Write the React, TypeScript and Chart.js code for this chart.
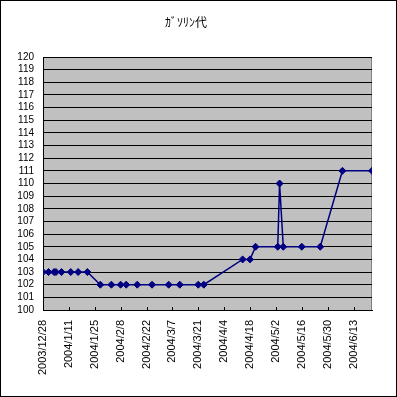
import React, { useEffect, useRef } from "react";
import { Chart, registerables } from "chart.js";

Chart.register(...registerables);

const TITLE = "ｶﾞｿﾘﾝ代";
const dates = [
  "2003/12/28", "2003/12/31", "2004/1/3", "2004/1/4", "2004/1/7", "2004/1/12", "2004/1/16", "2004/1/21",
  "2004/1/28", "2004/2/3", "2004/2/8", "2004/2/11", "2004/2/17", "2004/2/25", "2004/3/5", "2004/3/11",
  "2004/3/21", "2004/3/24", "2004/4/14", "2004/4/18", "2004/4/21", "2004/5/3", "2004/5/4", "2004/5/6",
  "2004/5/16", "2004/5/26", "2004/6/7", "2004/6/23",
];
const prices = [
  103, 103, 103, 103, 103, 103, 103, 103,
  102, 102, 102, 102, 102, 102, 102, 102,
  102, 102, 104, 104, 105, 105, 110, 105,
  105, 105, 111, 111,
];
const axisStart = "2003/12/28";
const axisEnd = "2004/6/23";
const tickStepDays = 14;
const yMin = 100;
const yMax = 120;

const DAY = 86400000;
const toUTC = (s: string) => {
  const [y, m, d] = s.split("/").map(Number);
  return Date.UTC(y, m - 1, d);
};
const base = toUTC(axisStart);
const toDay = (s: string) => Math.round((toUTC(s) - base) / DAY);
const fmtDay = (n: number) => {
  const dt = new Date(base + n * DAY);
  return `${dt.getUTCFullYear()}/${dt.getUTCMonth() + 1}/${dt.getUTCDate()}`;
};

const FONT = "'Liberation Sans', Arial, sans-serif";

const decor = {
  id: "decor",
  beforeDraw(chart: any) {
    const { ctx, chartArea: a } = chart;
    ctx.save();
    ctx.fillStyle = "#ffffff";
    ctx.fillRect(0, 0, chart.width, chart.height);
    ctx.fillStyle = "#c0c0c0";
    ctx.fillRect(a.left, a.top, a.right - a.left, a.bottom - a.top);
    ctx.strokeStyle = "#808080";
    ctx.lineWidth = 1;
    ctx.strokeRect(a.left + 0.5, a.top + 0.5, a.right - a.left - 1, a.bottom - a.top);
    ctx.restore();
  },
  afterDatasetsDraw(chart: any) {
    const { ctx, chartArea: a } = chart;
    const xs = chart.scales.x;
    ctx.save();
    ctx.strokeStyle = "#000000";
    ctx.lineWidth = 1;
    ctx.beginPath();
    xs.ticks.forEach((t: any) => {
      const px = Math.round(xs.getPixelForValue(t.value)) + 0.5;
      ctx.moveTo(px, a.bottom);
      ctx.lineTo(px, a.bottom - 3);
    });
    ctx.stroke();
    ctx.restore();
  },
  afterDraw(chart: any) {
    const { ctx } = chart;
    ctx.save();
    ctx.strokeStyle = "#000000";
    ctx.lineWidth = 1;
    ctx.strokeRect(0.5, 0.5, chart.width - 1, chart.height - 1);
    ctx.restore();
  },
};

export default function App() {
  const ref = useRef<HTMLCanvasElement>(null);
  useEffect(() => {
    document.body.style.margin = "0";
    const pts = dates.map((d, i) => ({ x: toDay(d), y: prices[i] }));
    const chart = new Chart(ref.current as HTMLCanvasElement, {
      type: "line",
      data: {
        datasets: [
          {
            data: pts,
            borderColor: "#000080",
            backgroundColor: "#000080",
            borderWidth: 1.5,
            pointStyle: "rectRot",
            pointRadius: 3.5,
            pointBorderWidth: 1,
            pointBorderColor: "#000080",
            pointBackgroundColor: "#000080",
            tension: 0,
          },
        ],
      },
      options: {
        animation: false,
        responsive: false,
        layout: { padding: { left: 0, right: 25, top: 0, bottom: 0 } },
        plugins: {
          legend: { display: false },
          tooltip: { enabled: false },
          title: {
            display: true,
            text: TITLE,
            color: "#000000",
            font: { family: "'Noto Sans CJK JP', sans-serif", size: 12, weight: "normal" },
            padding: { top: 15, bottom: 27.6 },
          },
        },
        scales: {
          x: {
            type: "linear",
            min: 0,
            max: toDay(axisEnd),
            afterFit: (s: any) => {
              s.height = 87;
            },
            ticks: {
              stepSize: tickStepDays,
              includeBounds: false,
              autoSkip: false,
              maxRotation: 90,
              minRotation: 90,
              padding: 10,
              color: "#000000",
              font: { family: FONT, size: 11 },
              callback: (v: any) => fmtDay(Number(v)),
            },
            grid: { display: false, drawTicks: false },
            border: { display: true, color: "#000000", width: 1 },
          },
          y: {
            min: yMin,
            max: yMax,
            afterFit: (s: any) => {
              s.width = 43;
            },
            ticks: {
              stepSize: 1,
              autoSkip: false,
              padding: 9,
              color: "#000000",
              font: { family: FONT, size: 10 },
            },
            grid: { color: "#000000", lineWidth: 1, drawTicks: false },
            border: { display: true, color: "#000000", width: 1 },
          },
        },
      },
      plugins: [decor],
    });
    return () => chart.destroy();
  }, []);
  return (
    <div style={{ width: 397, height: 397 }}>
      <canvas ref={ref} width={397} height={397} style={{ display: "block" }} />
    </div>
  );
}
